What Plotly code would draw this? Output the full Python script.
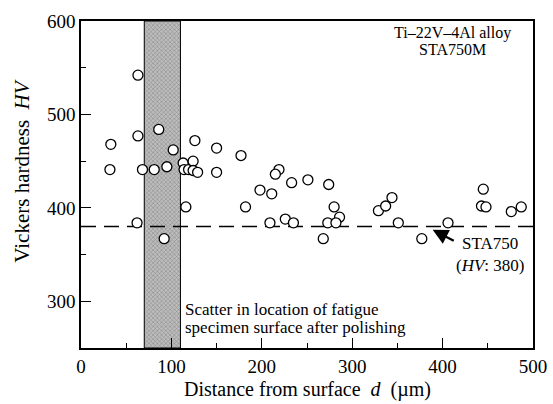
import plotly.graph_objects as go

# Data
distance_um = [33, 32, 63, 63, 62, 68, 81, 86, 92, 95, 102, 113, 114, 119, 124, 124, 129,
               116, 126, 150, 150, 177,
               219, 215, 251, 233, 274, 198, 211, 182, 280, 286, 226, 235, 209, 273, 282, 268,
               329, 337, 344, 445, 443, 448, 487, 476, 351, 406, 377]
hardness_hv = [468, 441, 542, 477, 384, 441, 441, 484, 367, 444, 462, 448, 441, 441, 450, 440, 438,
               401, 472, 464, 438, 456,
               441, 436, 430, 427, 425, 419, 415, 401, 401, 390, 388, 384, 384, 384, 384, 367,
               397, 402, 411, 420, 402, 401, 401, 396, 384, 384, 367]

sta750_hv = 380
band_start, band_end = 70, 110
x_range = [0, 500]
y_range = [250, 600]

FONT = "Liberation Serif"

fig = go.Figure()

# Shaded band: scatter in location of the fatigue specimen surface
fig.add_trace(go.Bar(
    x=[(band_start + band_end) / 2], y=[y_range[1] - y_range[0]], base=[y_range[0]],
    width=[band_end - band_start],
    marker=dict(color="#bdbdbd", line=dict(color="black", width=1),
                pattern=dict(shape="x", fgcolor="#555555", size=3, solidity=0.35)),
    showlegend=False, hoverinfo="skip"))

# STA750 reference level
fig.add_trace(go.Scatter(
    x=x_range, y=[sta750_hv, sta750_hv], mode="lines",
    line=dict(color="black", width=1.5, dash="15px,8px"),
    showlegend=False, hoverinfo="skip"))

# Hardness measurements
fig.add_trace(go.Scatter(
    x=distance_um, y=hardness_hv, mode="markers",
    marker=dict(symbol="circle", size=10, color="white",
                line=dict(color="black", width=1.3)),
    showlegend=False))

fig.update_layout(
    width=553, height=404,
    margin=dict(l=81, r=20, t=21, b=56),
    plot_bgcolor="white", paper_bgcolor="white",
    font=dict(family=FONT, size=19, color="black"),
    barmode="overlay",
    xaxis=dict(range=x_range, dtick=100, tick0=0, ticks="inside", ticklen=10,
               tickwidth=1, tickcolor="black", automargin=False,
               minor=dict(dtick=50, ticks="inside", ticklen=5, tickcolor="black"),
               showline=True, linecolor="black", linewidth=1.5, mirror=True,
               showgrid=False, zeroline=False),
    yaxis=dict(range=y_range, dtick=100, tick0=0, ticks="inside", ticklen=10,
               tickwidth=1, tickcolor="black", automargin=False,
               minor=dict(dtick=50, ticks="inside", ticklen=5, tickcolor="black"),
               showline=True, linecolor="black", linewidth=1.5, mirror=True,
               showgrid=False, zeroline=False),
)

# Axis titles
fig.add_annotation(x=0.5, y=-0.128, xref="paper", yref="paper", xanchor="center", yanchor="middle",
                   text="Distance from surface  <i>d</i>  (\u00b5m)", showarrow=False,
                   font=dict(family=FONT, size=20))
fig.add_annotation(x=-0.13, y=0.54, xref="paper", yref="paper", xanchor="center", yanchor="middle",
                   text="Vickers hardness  <i>HV</i>", showarrow=False, textangle=-90,
                   font=dict(family=FONT, size=21))

# Alloy label
fig.add_annotation(x=0.823, y=0.964, xref="paper", yref="paper", xanchor="center", yanchor="middle",
                   text="Ti\u201322V\u20134Al alloy", showarrow=False, font=dict(family=FONT, size=16))
fig.add_annotation(x=0.823, y=0.912, xref="paper", yref="paper", xanchor="center", yanchor="middle",
                   text="STA750M", showarrow=False, font=dict(family=FONT, size=16))

# Band note
fig.add_annotation(x=113, y=291, xref="x", yref="y", xanchor="left", yanchor="middle",
                   text="Scatter in location of fatigue", showarrow=False,
                   font=dict(family=FONT, size=17))
fig.add_annotation(x=113, y=272, xref="x", yref="y", xanchor="left", yanchor="middle",
                   text="specimen surface after polishing", showarrow=False,
                   font=dict(family=FONT, size=17))

# STA750 label with arrow
fig.add_annotation(x=452, y=350, xref="x", yref="y", xanchor="center", yanchor="middle",
                   text="STA750<br>(<i>HV</i>: 380)", showarrow=False, align="center",
                   font=dict(family=FONT, size=17))
fig.add_annotation(x=389, y=376.5, ax=414, ay=364, xref="x", yref="y", axref="x", ayref="y",
                   text="", showarrow=True, arrowhead=2, arrowsize=1.4, arrowwidth=2.2,
                   arrowcolor="black")

fig.write_html("out.html", config={"displayModeBar": False},
               post_script="document.body.style.margin='0';")
